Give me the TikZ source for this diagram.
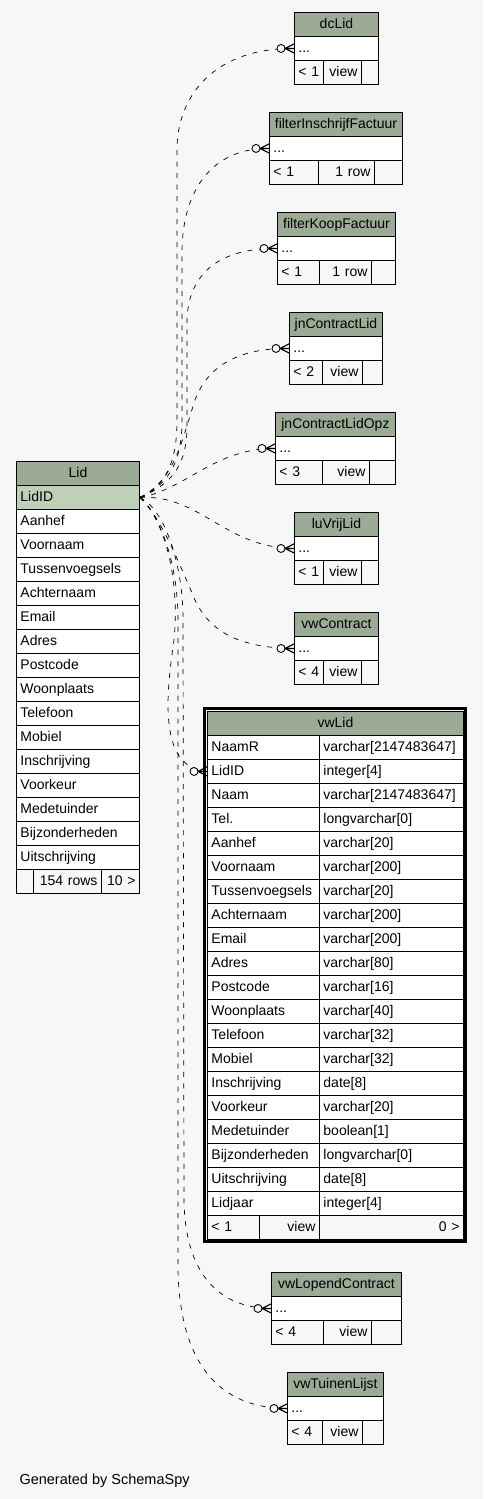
\documentclass[tikz,border=0pt]{standalone}
\usepackage{fontspec}
\setmainfont{Liberation Sans}
\usetikzlibrary{calc}
\definecolor{pagebg}{RGB}{247,247,247}
\definecolor{headgreen}{RGB}{155,171,150}
\definecolor{keygreen}{RGB}{190,209,184}
\tikzset{
  cellbox/.style={draw=black, line width=0.9pt, anchor=north west, minimum height=24pt,
    inner xsep=4pt, inner ysep=0pt, text height=10pt, text depth=1pt,
    font=\fontsize{14}{16}\selectfont},
  rel/.style={draw=black, line width=0.7pt, dash pattern=on 5pt off 6.5pt},
  crowodot/.pic={
    \draw[line width=0.9pt, fill=pagebg] (-13,0) circle[radius=4];
    \draw[line width=1.1pt] (-9,0) -- (0,-4.5) (-9,0) -- (0,0) (-9,0) -- (0,4.5);
  }
}
\newcommand{\fld}[7]{%
  \pgfmathsetmacro{\fldw}{#4}%
  \pgfmathsetmacro{\fldt}{#4-8}%
  \node[cellbox, fill=#5, minimum width=\fldw pt, text width=\fldt pt, align=#6] (#1) at (#2,#3) {#7};%
}
\newcommand{\smalltbl}[8]{%
  \fld{#1-head}{#2}{#3}{#4-#2}{headgreen}{center}{#1}%
  \fld{#1-body}{#2}{#3+24}{#4-#2}{white}{left}{...}%
  \fld{#1-f1}{#2}{#3+48}{#5-#2}{pagebg}{left}{#7}%
  \fld{#1-f2}{#5}{#3+48}{#6-#5}{pagebg}{right}{#8}%
  \fld{#1-f3}{#6}{#3+48}{#4-#6}{pagebg}{right}{}%
}

\begin{document}
\begin{tikzpicture}[x=1pt,y=-1pt]

  \fill[pagebg] (0,0) rectangle (483,1499);
  \useasboundingbox (0,0) rectangle (483,1499);

  % Lid
  \fld{Lid-head}{16}{461}{123}{headgreen}{center}{Lid}
  \fld{Lid-LidID}{16}{485}{123}{keygreen}{left}{LidID}
  \fld{Lid-Aanhef}{16}{509}{123}{white}{left}{Aanhef}
  \fld{Lid-Voornaam}{16}{533}{123}{white}{left}{Voornaam}
  \fld{Lid-Tussenvoegsels}{16}{557}{123}{white}{left}{Tussenvoegsels}
  \fld{Lid-Achternaam}{16}{581}{123}{white}{left}{Achternaam}
  \fld{Lid-Email}{16}{605}{123}{white}{left}{Email}
  \fld{Lid-Adres}{16}{629}{123}{white}{left}{Adres}
  \fld{Lid-Postcode}{16}{653}{123}{white}{left}{Postcode}
  \fld{Lid-Woonplaats}{16}{677}{123}{white}{left}{Woonplaats}
  \fld{Lid-Telefoon}{16}{701}{123}{white}{left}{Telefoon}
  \fld{Lid-Mobiel}{16}{725}{123}{white}{left}{Mobiel}
  \fld{Lid-Inschrijving}{16}{749}{123}{white}{left}{Inschrijving}
  \fld{Lid-Voorkeur}{16}{773}{123}{white}{left}{Voorkeur}
  \fld{Lid-Medetuinder}{16}{797}{123}{white}{left}{Medetuinder}
  \fld{Lid-Bijzonderheden}{16}{821}{123}{white}{left}{Bijzonderheden}
  \fld{Lid-Uitschrijving}{16}{845}{123}{white}{left}{Uitschrijving}
  \fld{Lid-f1}{16}{869}{17}{pagebg}{left}{}
  \fld{Lid-f2}{33}{869}{68}{pagebg}{right}{154 rows}
  \fld{Lid-f3}{101}{869}{38}{pagebg}{right}{10 >}

  % views that refer to Lid
  \smalltbl{dcLid}{294}{12}{378}{323}{361}{< 1}{view}
  \smalltbl{filterInschrijfFactuur}{269}{112}{402}{318}{374}{< 1}{1 row}
  \smalltbl{filterKoopFactuur}{277}{212}{395}{319}{371}{< 1}{1 row}
  \smalltbl{jnContractLid}{289}{312}{382}{322}{362}{< 2}{view}
  \smalltbl{jnContractLidOpz}{275}{412}{395}{322}{369}{< 3}{view}
  \smalltbl{luVrijLid}{294}{512}{378}{323}{361}{< 1}{view}
  \smalltbl{vwContract}{294}{612}{378}{323}{361}{< 4}{view}
  \smalltbl{vwLopendContract}{271}{1272}{401}{323}{371}{< 4}{view}
  \smalltbl{vwTuinenLijst}{287}{1372}{383}{322}{362}{< 4}{view}

  % vwLid
  \fld{vwLid-head}{207}{711}{256}{headgreen}{center}{vwLid}
  \fld{vwLid-NaamR}{207}{735}{112}{white}{left}{NaamR}
  \fld{vwLid-NaamR-t}{319}{735}{144}{white}{left}{varchar[2147483647]}
  \fld{vwLid-LidID}{207}{759}{112}{white}{left}{LidID}
  \fld{vwLid-LidID-t}{319}{759}{144}{white}{left}{integer[4]}
  \fld{vwLid-Naam}{207}{783}{112}{white}{left}{Naam}
  \fld{vwLid-Naam-t}{319}{783}{144}{white}{left}{varchar[2147483647]}
  \fld{vwLid-Tel}{207}{807}{112}{white}{left}{Tel.}
  \fld{vwLid-Tel-t}{319}{807}{144}{white}{left}{longvarchar[0]}
  \fld{vwLid-Aanhef}{207}{831}{112}{white}{left}{Aanhef}
  \fld{vwLid-Aanhef-t}{319}{831}{144}{white}{left}{varchar[20]}
  \fld{vwLid-Voornaam}{207}{855}{112}{white}{left}{Voornaam}
  \fld{vwLid-Voornaam-t}{319}{855}{144}{white}{left}{varchar[200]}
  \fld{vwLid-Tussenvoegsels}{207}{879}{112}{white}{left}{Tussenvoegsels}
  \fld{vwLid-Tussenvoegsels-t}{319}{879}{144}{white}{left}{varchar[20]}
  \fld{vwLid-Achternaam}{207}{903}{112}{white}{left}{Achternaam}
  \fld{vwLid-Achternaam-t}{319}{903}{144}{white}{left}{varchar[200]}
  \fld{vwLid-Email}{207}{927}{112}{white}{left}{Email}
  \fld{vwLid-Email-t}{319}{927}{144}{white}{left}{varchar[200]}
  \fld{vwLid-Adres}{207}{951}{112}{white}{left}{Adres}
  \fld{vwLid-Adres-t}{319}{951}{144}{white}{left}{varchar[80]}
  \fld{vwLid-Postcode}{207}{975}{112}{white}{left}{Postcode}
  \fld{vwLid-Postcode-t}{319}{975}{144}{white}{left}{varchar[16]}
  \fld{vwLid-Woonplaats}{207}{999}{112}{white}{left}{Woonplaats}
  \fld{vwLid-Woonplaats-t}{319}{999}{144}{white}{left}{varchar[40]}
  \fld{vwLid-Telefoon}{207}{1023}{112}{white}{left}{Telefoon}
  \fld{vwLid-Telefoon-t}{319}{1023}{144}{white}{left}{varchar[32]}
  \fld{vwLid-Mobiel}{207}{1047}{112}{white}{left}{Mobiel}
  \fld{vwLid-Mobiel-t}{319}{1047}{144}{white}{left}{varchar[32]}
  \fld{vwLid-Inschrijving}{207}{1071}{112}{white}{left}{Inschrijving}
  \fld{vwLid-Inschrijving-t}{319}{1071}{144}{white}{left}{date[8]}
  \fld{vwLid-Voorkeur}{207}{1095}{112}{white}{left}{Voorkeur}
  \fld{vwLid-Voorkeur-t}{319}{1095}{144}{white}{left}{varchar[20]}
  \fld{vwLid-Medetuinder}{207}{1119}{112}{white}{left}{Medetuinder}
  \fld{vwLid-Medetuinder-t}{319}{1119}{144}{white}{left}{boolean[1]}
  \fld{vwLid-Bijzonderheden}{207}{1143}{112}{white}{left}{Bijzonderheden}
  \fld{vwLid-Bijzonderheden-t}{319}{1143}{144}{white}{left}{longvarchar[0]}
  \fld{vwLid-Uitschrijving}{207}{1167}{112}{white}{left}{Uitschrijving}
  \fld{vwLid-Uitschrijving-t}{319}{1167}{144}{white}{left}{date[8]}
  \fld{vwLid-Lidjaar}{207}{1191}{112}{white}{left}{Lidjaar}
  \fld{vwLid-Lidjaar-t}{319}{1191}{144}{white}{left}{integer[4]}
  \fld{vwLid-f1}{207}{1215}{52}{pagebg}{left}{< 1}
  \fld{vwLid-f2}{259}{1215}{60}{pagebg}{right}{view}
  \fld{vwLid-f3}{319}{1215}{144}{pagebg}{right}{0 >}
  \draw[line width=3pt] (204.5,708.5) rectangle (465.5,1241.5);

  % implied relationships
  \draw[rel] (Lid-LidID.east) .. controls (166,486) and (177,462) .. (177,420) -- (177,150)
    .. controls (177,95) and (215,48) .. (dcLid-body.west);
  \draw[rel] (Lid-LidID.east) .. controls (170,484) and (182,460) .. (182,420) -- (182,250)
    .. controls (183,190) and (212,148) .. (filterInschrijfFactuur-body.west);
  \draw[rel] (Lid-LidID.east) .. controls (175,483) and (187,462) .. (187,425) -- (187,320)
    .. controls (188,280) and (212,248) .. (filterKoopFactuur-body.west);
  \draw[rel] (Lid-LidID.east) .. controls (175,480) and (182,440) .. (195,400)
    .. controls (208,365) and (240,348) .. (jnContractLid-body.west);
  \draw[rel] (Lid-LidID.east) .. controls (185,490) and (215,448) .. (jnContractLidOpz-body.west);
  \draw[rel] (Lid-LidID.east) .. controls (200,494) and (225,548) .. (luVrijLid-body.west);
  \draw[rel] (Lid-LidID.east) .. controls (160,515) and (180,565) .. (195,600)
    .. controls (210,632) and (240,648) .. (vwContract-body.west);
  \draw[rel] (Lid-LidID.east) .. controls (165,520) and (180,580) .. (174,640)
    .. controls (166,695) and (158,768) .. (vwLid-LidID.west);
  \draw[rel] (Lid-LidID.east) .. controls (163,508) and (183,560) .. (183,620) -- (184,1200)
    .. controls (185,1275) and (220,1308) .. (vwLopendContract-body.west);
  \draw[rel] (Lid-LidID.east) .. controls (158,512) and (178,560) .. (178,620) -- (178,1270)
    .. controls (180,1365) and (220,1408) .. (vwTuinenLijst-body.west);

  \pic at (dcLid-body.west) {crowodot};
  \pic at (filterInschrijfFactuur-body.west) {crowodot};
  \pic at (filterKoopFactuur-body.west) {crowodot};
  \pic at (jnContractLid-body.west) {crowodot};
  \pic at (jnContractLidOpz-body.west) {crowodot};
  \pic at (luVrijLid-body.west) {crowodot};
  \pic at (vwContract-body.west) {crowodot};
  \pic at (vwLid-LidID.west) {crowodot};
  \pic at (vwLopendContract-body.west) {crowodot};
  \pic at (vwTuinenLijst-body.west) {crowodot};

  \node[anchor=base west, font=\fontsize{14.5}{17}\selectfont] (credit) at (16,1484) {Generated by SchemaSpy};

\end{tikzpicture}
\end{document}
